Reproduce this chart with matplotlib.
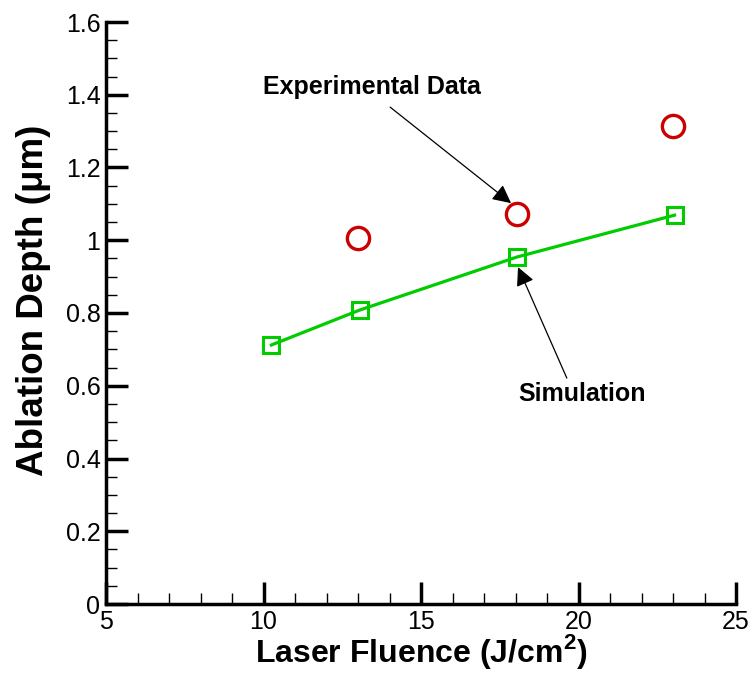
import numpy as np
import matplotlib.pyplot as plt
from matplotlib.ticker import MultipleLocator

plt.rcParams['font.family'] = ['Liberation Sans', 'DejaVu Sans']
plt.rcParams['mathtext.fontset'] = 'custom'
plt.rcParams['mathtext.rm'] = 'Liberation Sans'
plt.rcParams['mathtext.bf'] = 'Liberation Sans:bold'

# measured depths
exp_fluence = [13.0, 18.05, 23.0]
exp_depth = [1.006, 1.072, 1.314]

# model results
sim_fluence = [10.25, 13.05, 18.05, 23.05]
sim_depth = [0.712, 0.808, 0.954, 1.069]

fig = plt.figure(figsize=(7.53, 6.73), dpi=100)
ax = fig.add_axes([106 / 753, 69 / 673, 630 / 753, 582 / 673])

ax.plot(sim_fluence, sim_depth, color='#00cc00', lw=2.3, marker='s', ms=11,
        mfc='none', mec='#00cc00', mew=2.2, clip_on=False)
ax.plot(exp_fluence, exp_depth, ls='none', marker='o', ms=16, mfc='none',
        mec='#cc0000', mew=2.4, clip_on=False)

ax.set_xlim(5, 25)
ax.set_ylim(0, 1.6)
ax.xaxis.set_major_locator(MultipleLocator(5))
ax.xaxis.set_minor_locator(MultipleLocator(1))
ax.yaxis.set_minor_locator(MultipleLocator(0.05))
ax.set_yticks(np.arange(0, 1.61, 0.2))
ax.set_yticklabels(['0', '0.2', '0.4', '0.6', '0.8', '1', '1.2', '1.4', '1.6'])

for side in ['top', 'right']:
    ax.spines[side].set_visible(False)
for side in ['left', 'bottom']:
    ax.spines[side].set_linewidth(2.5)

ax.tick_params(which='major', direction='in', length=16, width=2.5,
               labelsize=18, pad=4)
ax.tick_params(which='minor', direction='in', length=8, width=1)

ax.set_xlabel('Laser Fluence (J/cm$^\\mathbf{2}$)', fontsize=23,
              fontweight='bold', labelpad=-1)
ax.set_ylabel('Ablation Depth (\u03bcm)', fontsize=26.5, fontweight='bold')
ax.yaxis.set_label_coords(-0.088, 0.522)

# callout labels with thin arrows
ax.text(13.44, 1.421, 'Experimental Data', ha='center', va='center',
        fontsize=18, fontweight='bold')
ax.annotate('', xy=(17.86, 1.102), xytext=(14.02, 1.366),
            arrowprops=dict(arrowstyle='-|>', color='black', lw=0.9,
                            mutation_scale=28, shrinkA=0, shrinkB=0))
ax.text(20.11, 0.577, 'Simulation', ha='center', va='center',
        fontsize=18, fontweight='bold')
ax.annotate('', xy=(18.08, 0.926), xytext=(19.63, 0.621),
            arrowprops=dict(arrowstyle='-|>', color='black', lw=0.9,
                            mutation_scale=28, shrinkA=0, shrinkB=0))

fig.savefig('out.png', dpi=100)
